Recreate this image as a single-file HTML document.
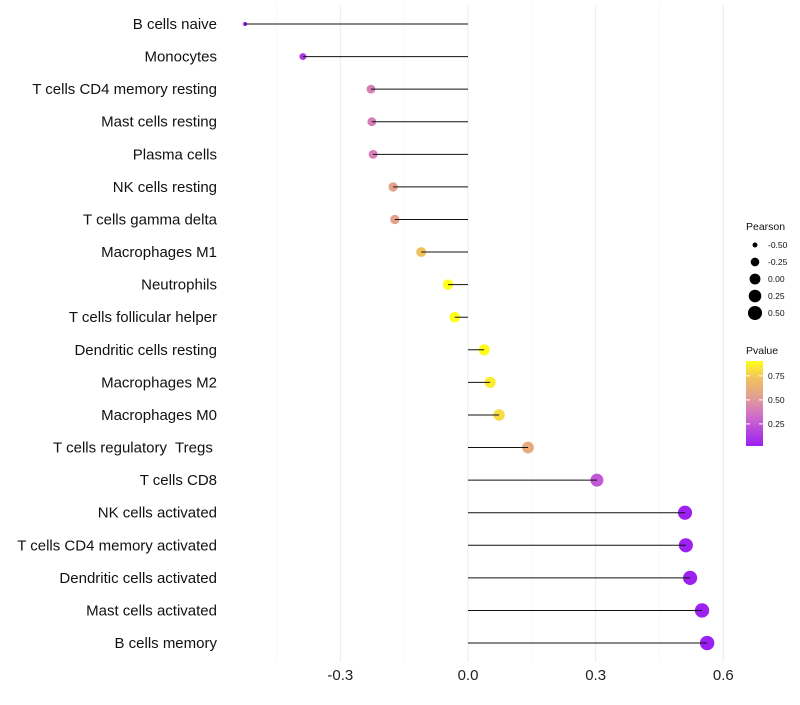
<!DOCTYPE html>
<html><head><meta charset="utf-8"><style>
body{margin:0;background:#fff;font-family:"Liberation Sans",sans-serif;}
svg text{font-family:"Liberation Sans",sans-serif;}
</style></head><body>
<svg id="chart" width="800" height="700">
<defs><linearGradient id="pg" x1="0" y1="1" x2="0" y2="0">
<stop offset="0" stop-color="#9b1ff0"/><stop offset="0.35" stop-color="#cf6ccb"/><stop offset="0.55" stop-color="#e19a98"/><stop offset="0.8" stop-color="#f2c25e"/><stop offset="1" stop-color="#ffff1a"/>
</linearGradient></defs>
<g id="grid"></g><g id="points"></g><g id="marks"></g><g id="labels"></g><g id="legend"></g>
</svg>
<script>
const categories=["B cells naive","Monocytes","T cells CD4 memory resting","Mast cells resting","Plasma cells","NK cells resting","T cells gamma delta","Macrophages M1","Neutrophils","T cells follicular helper","Dendritic cells resting","Macrophages M2","Macrophages M0","T cells regulatory  Tregs ","T cells CD8","NK cells activated","T cells CD4 memory activated","Dendritic cells activated","Mast cells activated","B cells memory"];
const pearson=[-0.524,-0.388,-0.228,-0.226,-0.223,-0.176,-0.172,-0.110,-0.047,-0.031,0.038,0.052,0.073,0.141,0.303,0.510,0.512,0.522,0.550,0.562];
const pvalues=[0.02,0.12,0.40,0.40,0.40,0.55,0.55,0.72,0.90,0.95,0.90,0.85,0.80,0.60,0.25,0.03,0.03,0.03,0.03,0.02];
const xTicks=[-0.3,0,0.3,0.6];
const xTickLabels=["-0.3","0.0","0.3","0.6"];
const sizeLegend=[-0.50,-0.25,0.00,0.25,0.50];
const colorLegend=[0.75,0.50,0.25];
const NS="http://www.w3.org/2000/svg";
const x=v=>468+v*425.5;
const y=i=>24+i*32.58;
const r=v=>1.2+6*Math.sqrt(Math.max(0,(v+0.55)/1.11));
function col(p){const t=Math.max(0,Math.min(1,(p-0.02)/0.885));
const st=[[0,[155,31,240]],[0.35,[207,108,203]],[0.55,[225,154,152]],[0.8,[242,194,94]],[1,[255,255,26]]];
for(let k=1;k<st.length;k++){if(t<=st[k][0]){const a=st[k-1],b=st[k],f=(t-a[0])/(b[0]-a[0]);return "rgb("+a[1].map((c,j)=>Math.round(c+(b[1][j]-c)*f)).join(",")+")";}}return "rgb(255,255,26)";}
function el(tag,attrs,parent,txt){const e=document.createElementNS(NS,tag);for(const k in attrs)e.setAttribute(k,attrs[k]);if(txt!==undefined)e.textContent=txt;parent.appendChild(e);return e;}
const grid=document.getElementById('grid'),points=document.getElementById('points'),marks=document.getElementById('marks'),labels=document.getElementById('labels'),legend=document.getElementById('legend');
[-0.45,-0.15,0.15,0.45].forEach(v=>{const g=el('line',{x1:x(v),x2:x(v),y1:5,y2:662,stroke:'#f2f2f2','stroke-width':0.6},grid);

});
xTicks.forEach((v,i)=>{const g=el('line',{x1:x(v),x2:x(v),y1:5,y2:662,stroke:'#ebebeb','stroke-width':1},grid);


const t=el('text',{x:x(v),y:680,'text-anchor':'middle','font-size':15,fill:'#222'},labels,xTickLabels[i]);

});
categories.forEach((c,i)=>{
const d=el('circle',{cx:x(pearson[i]),cy:y(i),r:r(pearson[i]),fill:col(pvalues[i])},points);


const l=el('line',{x1:x(0),x2:x(pearson[i]),y1:y(i),y2:y(i),stroke:'#111','stroke-width':1},marks);


const t=el('text',{x:217,y:y(i)+5,'text-anchor':'end','font-size':15,fill:'#111','xml:space':'preserve'},labels,c);
t.style.whiteSpace='pre';

});
const lt=el('text',{x:746,y:230,'font-size':10.5,fill:'#111'},legend,'Pearson');


sizeLegend.forEach((v,i)=>{const cy=245+i*17;
const c=el('circle',{cx:755,cy:cy,r:r(v),fill:'#000'},legend);


const t=el('text',{x:768,y:cy+3,'font-size':8.5,fill:'#111'},legend,v.toFixed(2));

});
const ct=el('text',{x:746,y:354,'font-size':10.5,fill:'#111'},legend,'Pvalue');


const bar=el('rect',{x:746,y:361,width:17,height:85,fill:'url(#pg)'},legend);


const cy=p=>446-(p-0.02)/0.885*85;
colorLegend.forEach(p=>{el('line',{x1:746,x2:750,y1:cy(p),y2:cy(p),stroke:'#fff'},legend);el('line',{x1:759,x2:763,y1:cy(p),y2:cy(p),stroke:'#fff'},legend);
const t=el('text',{x:768,y:cy(p)+3,'font-size':8.5,fill:'#111'},legend,p.toFixed(2));

});
</script>
</body></html>
